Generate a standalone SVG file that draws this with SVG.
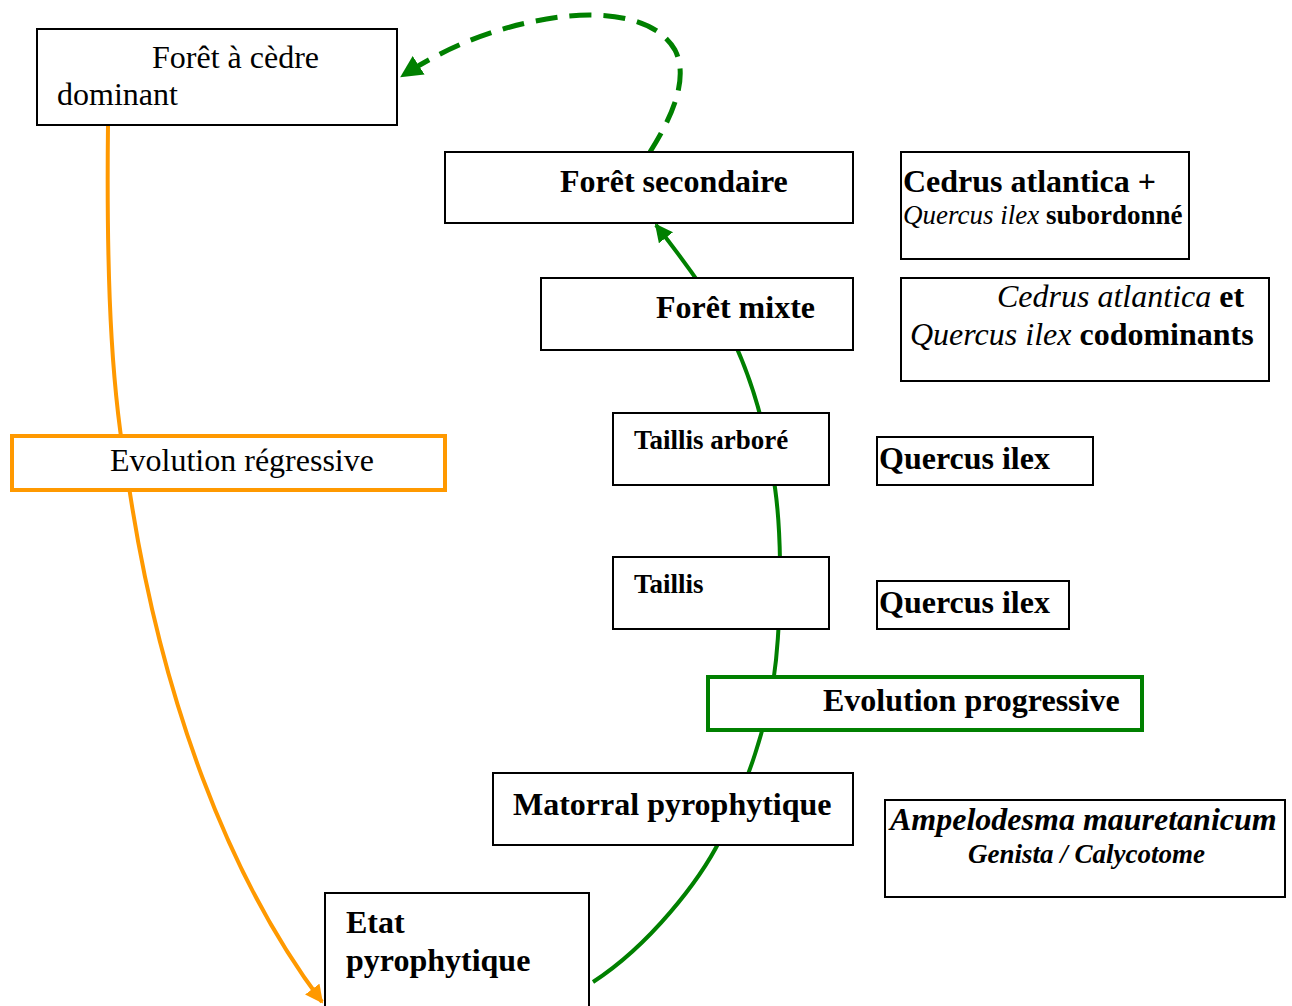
<svg xmlns="http://www.w3.org/2000/svg" width="1292" height="1006" viewBox="0 0 1292 1006">
  <style>
    text { font-family: "Liberation Serif", "Times New Roman", serif; fill: #000; }
    .box { fill: #fff; stroke: #000; stroke-width: 2; }
    .b { font-weight: bold; }
    .i { font-style: italic; }
    .t32 { font-size: 32px; }
    .t27 { font-size: 27px; }
  </style>
  <defs>
    <marker id="ahGreen" viewBox="0 0 10 10" refX="9" refY="5" markerWidth="4.4" markerHeight="4.4" orient="auto" markerUnits="strokeWidth">
      <path d="M0,0 L10,5 L0,10 z" fill="#008000"/>
    </marker>
    <marker id="ahGreenS" viewBox="0 0 10 10" refX="9" refY="5" markerWidth="4.5" markerHeight="4.5" orient="auto" markerUnits="strokeWidth">
      <path d="M0,0 L10,5 L0,10 z" fill="#008000"/>
    </marker>
    <marker id="ahOrange" viewBox="0 0 10 10" refX="9" refY="5" markerWidth="4.5" markerHeight="4.5" orient="auto" markerUnits="strokeWidth">
      <path d="M0,0 L10,5 L0,10 z" fill="#FF9900"/>
    </marker>
  </defs>

  <!-- connectors -->
  <g id="connectors" fill="none">
    <path d="M108,125 C106,300 113,400 128,480 C160,700 230,880 322,1002" stroke="#FF9900" stroke-width="4" marker-end="url(#ahOrange)"/>
    <path d="M593,982 C650,945 700,880 720,840 C745,790 770,720 776,660 C782,600 782,520 772,470 C762,410 745,360 722,318 C705,290 685,262 656,225" stroke="#008000" stroke-width="4" marker-end="url(#ahGreenS)"/>
    <path d="M650,152 C670,120 690,80 675,50 C655,15 600,12 560,17 C500,25 450,45 402,76" stroke="#008000" stroke-width="5" stroke-dasharray="22 12" marker-end="url(#ahGreen)"/>
  </g>

  <g id="foret-cedre">
    <rect class="box" x="37" y="29" width="360" height="96"/>
    <text class="t32" x="152" y="68">Forêt à cèdre</text>
    <text class="t32" x="57" y="105">dominant</text>
  </g>

  <g id="foret-secondaire">
    <rect class="box" x="445" y="152" width="408" height="71"/>
    <text class="t32 b" x="560" y="192">Forêt secondaire</text>
  </g>

  <g id="cedrus-subordonne">
    <rect class="box" x="901" y="152" width="288" height="107"/>
    <text class="t32 b" x="903" y="192">Cedrus atlantica +</text>
    <text class="t27" x="903" y="224"><tspan class="i">Quercus ilex</tspan> <tspan class="b">subordonné</tspan></text>
  </g>

  <g id="foret-mixte">
    <rect class="box" x="541" y="278" width="312" height="72"/>
    <text class="t32 b" x="656" y="318">Forêt mixte</text>
  </g>

  <g id="cedrus-codominants">
    <rect class="box" x="901" y="278" width="368" height="103"/>
    <text class="t32" x="997" y="307"><tspan class="i">Cedrus atlantica</tspan> <tspan class="b">et</tspan></text>
    <text class="t32" x="910" y="345"><tspan class="i">Quercus ilex</tspan> <tspan class="b">codominants</tspan></text>
  </g>

  <g id="taillis-arbore">
    <rect class="box" x="613" y="413" width="216" height="72"/>
    <text class="t27 b" x="634" y="449">Taillis arboré</text>
  </g>

  <g id="quercus-1">
    <rect class="box" x="877" y="437" width="216" height="48"/>
    <text class="t32 b" x="879" y="469">Quercus ilex</text>
  </g>

  <g id="taillis">
    <rect class="box" x="613" y="557" width="216" height="72"/>
    <text class="t27 b" x="634" y="593">Taillis</text>
  </g>

  <g id="quercus-2">
    <rect class="box" x="877" y="581" width="192" height="48"/>
    <text class="t32 b" x="879" y="613">Quercus ilex</text>
  </g>

  <g id="evolution-progressive">
    <rect x="708" y="677" width="434" height="53" fill="#fff" stroke="#008000" stroke-width="4"/>
    <text class="t32 b" x="823" y="711">Evolution progressive</text>
  </g>

  <g id="matorral">
    <rect class="box" x="493" y="773" width="360" height="72"/>
    <text class="t32 b" x="513" y="815">Matorral pyrophytique</text>
  </g>

  <g id="ampelodesma">
    <rect class="box" x="885" y="800" width="400" height="97"/>
    <text class="t32 b i" x="890" y="830">Ampelodesma mauretanicum</text>
    <text class="t27 b i" x="968" y="863">Genista / Calycotome</text>
  </g>

  <g id="etat-pyrophytique">
    <rect class="box" x="325" y="893" width="264" height="120"/>
    <text class="t32 b" x="346" y="933">Etat</text>
    <text class="t32 b" x="346" y="971">pyrophytique</text>
  </g>

  <g id="evolution-regressive">
    <rect x="12" y="436" width="433" height="54" fill="#fff" stroke="#FF9900" stroke-width="4"/>
    <text class="t32" x="110" y="471">Evolution régressive</text>
  </g>
</svg>
